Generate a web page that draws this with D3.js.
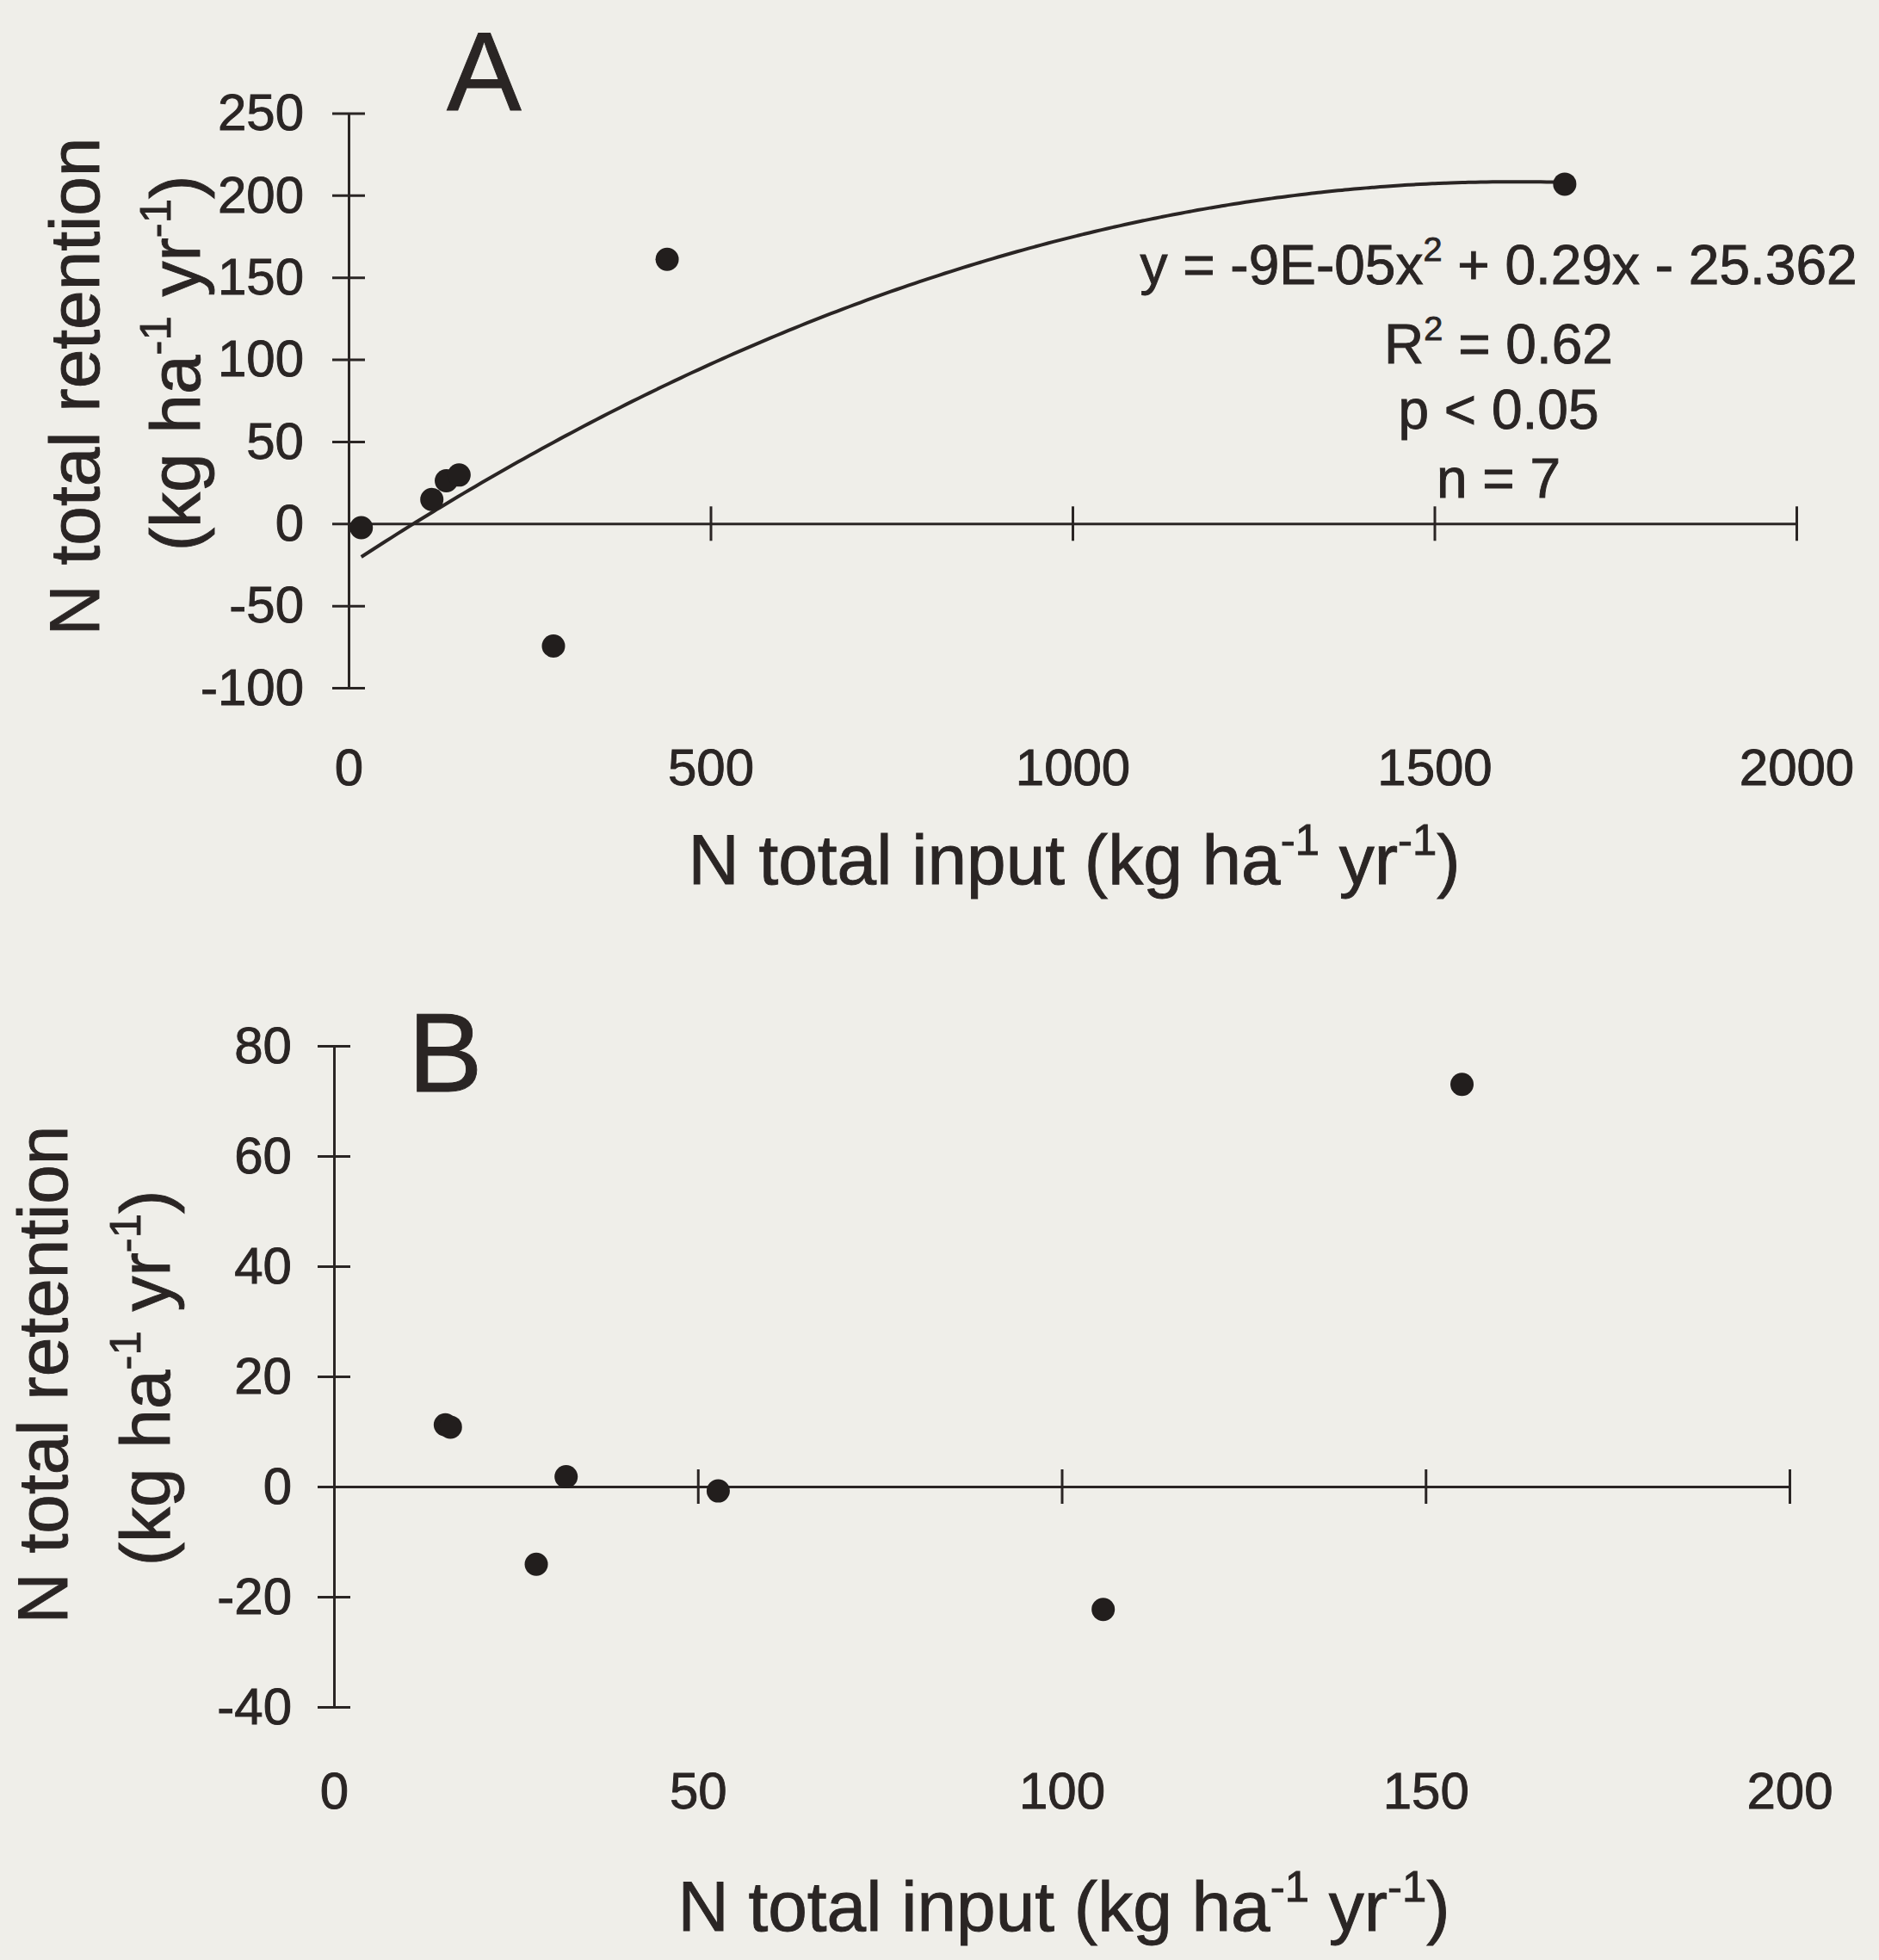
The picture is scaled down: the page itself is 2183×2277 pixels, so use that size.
<!DOCTYPE html>
<html>
<head>
<meta charset="utf-8">
<script src="https://cdn.jsdelivr.net/npm/d3@7"></script>
<style>
  html, body { margin: 0; padding: 0; background: #efeee9; }
  svg { display: block; }
  text { font-family: "Liberation Sans", Arial, sans-serif; fill: #2a2524; stroke: #2a2524; stroke-width: 0.9px; }
</style>
</head>
<body>
<svg id="chart" width="2183" height="2277"></svg>
<script>
// ---- Panel A: total N input vs. total N retention (all sites) ----
const inputA     = [17.5, 115, 135, 152.6, 283, 440, 1680];
const retentionA = [-2.5, 14.7, 26.1, 29.6, -74.6, 161, 206.8];
const xTicksA = [0, 500, 1000, 1500, 2000];
const yTicksA = [-100, -50, 0, 50, 100, 150, 200, 250];
// Quadratic fit: y = a x^2 + b x + c
const fitA = { a: -9e-05, b: 0.29, c: -25.362 };
const fitLabels = ["y = -9E-05x|2| + 0.29x - 25.362", "R|2| = 0.62", "p < 0.05", "n = 7"];

// ---- Panel B: low-input sites ----
const inputB     = [15.3, 16.0, 27.8, 31.9, 52.8, 105.7, 155];
const retentionB = [11.2, 10.8, -14.1, 1.8, -0.8, -22.3, 73];
const xTicksB = [0, 50, 100, 150, 200];
const yTicksB = [-40, -20, 0, 20, 40, 60, 80];

const ink = "#2a2524";
const plain = v => String(v);   // "-100", "1000" (hyphen minus, no grouping)
const svg = d3.select("#chart");
svg.append("rect").attr("width", 2183).attr("height", 2277).attr("fill", "#efeee9");

// Writes text with "|...|" segments as superscripts
function rich(sel, str, fs) {
  const parts = str.split("|");
  const shift = 0.42 * fs;
  parts.forEach((p, i) => {
    if (!p.length) return;
    const sup = i % 2 === 1;
    const t = sel.append("tspan").text(p);
    if (sup) {
      t.attr("font-size", fs * 0.62).attr("dy", -shift);
    } else if (i > 0) {
      t.attr("dy", shift);
    }
  });
  return sel;
}

function panel(cfg) {
  const g = svg.append("g");
  const x = d3.scaleLinear().domain(cfg.xDomain).range(cfg.xRange);
  const y = d3.scaleLinear().domain(cfg.yDomain).range(cfg.yRange);

  // y axis with ticks crossing the line
  const ya = g.append("g").attr("transform", `translate(${x(0)},0)`)
    .call(d3.axisLeft(y).tickValues(cfg.yTicks).tickSize(19).tickSizeOuter(0).tickFormat(""));
  ya.selectAll(".tick line").attr("x1", 19).attr("x2", -19);

  // x axis along y = 0, ticks crossing the line
  const xa = g.append("g").attr("transform", `translate(0,${y(0)})`)
    .call(d3.axisBottom(x).tickValues(cfg.xTicks.filter(v => v !== 0)).tickSize(20).tickSizeOuter(0).tickFormat(""));
  xa.selectAll(".tick line").attr("y1", -20).attr("y2", 20);

  [ya, xa].forEach(a => {
    a.selectAll("path, line").attr("stroke", ink).attr("stroke-width", 3);
  });

  // y tick labels
  const yl = g.append("g").attr("transform", `translate(${cfg.yLabelX},0)`)
    .call(d3.axisLeft(y).tickValues(cfg.yTicks).tickSize(0).tickPadding(0).tickFormat(plain));
  yl.select(".domain").remove();
  yl.selectAll("text").attr("font-size", 60).attr("fill", ink);

  // x tick labels along the bottom of the panel
  const xl = g.append("g").attr("transform", `translate(0,${cfg.xLabelY})`)
    .call(d3.axisBottom(x).tickValues(cfg.xTicks).tickSize(0).tickPadding(0).tickFormat(plain));
  xl.select(".domain").remove();
  xl.selectAll("text").attr("font-size", 60).attr("fill", ink);

  // fitted curve
  if (cfg.fit) {
    const [lo, hi] = d3.extent(cfg.xs);
    const pts = d3.range(lo, hi + 1e-9, (hi - lo) / 200);
    const f = v => cfg.fit.a * v * v + cfg.fit.b * v + cfg.fit.c;
    g.append("path")
      .datum(pts)
      .attr("fill", "none").attr("stroke", ink).attr("stroke-width", 4)
      .attr("d", d3.line().x(v => x(v)).y(v => y(f(v))).curve(d3.curveBasis));
  }

  // data points
  g.append("g").selectAll("circle")
    .data(cfg.xs.map((v, i) => [v, cfg.ys[i]]))
    .join("circle")
    .attr("cx", d => x(d[0])).attr("cy", d => y(d[1]))
    .attr("r", 13.5).attr("fill", "#221e1d");

  // panel letter
  g.append("text").attr("x", cfg.letterPos[0]).attr("y", cfg.letterPos[1])
    .attr("font-size", 130).text(cfg.letter);

  // axis titles
  rich(g.append("text").attr("x", cfg.xTitle[0]).attr("y", cfg.xTitle[1])
    .attr("text-anchor", "middle").attr("font-size", 82), "N total input (kg ha|-1| yr|-1|)", 82);
  g.append("text").attr("transform", `translate(${cfg.yTitle1[0]},${cfg.yTitle1[1]}) rotate(-90)`)
    .attr("text-anchor", "middle").attr("font-size", 82).text("N total retention");
  rich(g.append("text").attr("transform", `translate(${cfg.yTitle2[0]},${cfg.yTitle2[1]}) rotate(-90)`)
    .attr("text-anchor", "middle").attr("font-size", 82), "(kg ha|-1| yr|-1|)", 82);

  return { g, x, y };
}

const A = panel({
  xDomain: [0, 2000], xRange: [405, 2087],
  yDomain: [-100, 250], yRange: [799, 131.5],
  xTicks: xTicksA, yTicks: yTicksA,
  yLabelX: 353, xLabelY: 869,
  xs: inputA, ys: retentionA, fit: fitA,
  letter: "A", letterPos: [519, 128],
  xTitle: [1248, 1027], yTitle1: [115, 449], yTitle2: [232, 422]
});

// regression statistics
const eqY = [330, 422, 498, 578];
fitLabels.forEach((s, i) => {
  rich(A.g.append("text").attr("x", 1741).attr("y", eqY[i])
    .attr("text-anchor", "middle").attr("font-size", 64), s, 64);
});

panel({
  xDomain: [0, 200], xRange: [388, 2079],
  yDomain: [-40, 80], yRange: [1983, 1215],
  xTicks: xTicksB, yTicks: yTicksB,
  yLabelX: 339, xLabelY: 2058,
  xs: inputB, ys: retentionB, fit: null,
  letter: "B", letterPos: [474, 1268],
  xTitle: [1236, 2243], yTitle1: [78, 1597], yTitle2: [197, 1601]
});
</script>
</body>
</html>
